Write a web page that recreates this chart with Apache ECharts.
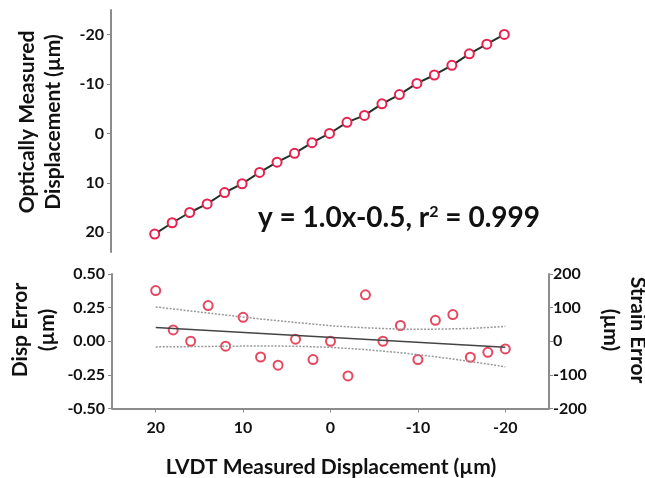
<!DOCTYPE html>
<html>
<head>
<meta charset="utf-8">
<script src="https://cdn.jsdelivr.net/npm/echarts@6/dist/echarts.min.js"></script>
<style>html,body{margin:0;padding:0;background:#fff}#chart{width:645px;height:478px}</style>
</head>
<body>
<div id="chart"></div>
<script>
// LVDT displacement (x, um) shared by both panels
const lvdt = [20, 18, 16, 14, 12, 10, 8, 6, 4, 2, 0, -2, -4, -6, -8, -10, -12, -14, -16, -18, -20];
// optically measured displacement (um)
const optical = [20.38, 18.08, 16.0, 14.27, 11.96, 10.18, 7.88, 5.82, 4.02, 1.86, 0.0, -2.26, -3.66, -6.0, -7.88, -10.14, -11.84, -13.8, -16.12, -18.08, -20.06];
// displacement error (um)
const dispError = [0.377, 0.084, 0.0, 0.265, -0.037, 0.178, -0.117, -0.178, 0.015, -0.136, 0.0, -0.258, 0.345, 0.0, 0.117, -0.136, 0.156, 0.198, -0.119, -0.082, -0.057];
// regression of the error and its confidence band
const fitX = [20, -20];
const fitErr = [0.102, -0.045];
const bandX = [20, 16, 12, 8, 4, 0, -4, -8, -12, -16, -20];
const bandUpper = [0.255, 0.225, 0.195, 0.165, 0.14, 0.115, 0.1, 0.09, 0.09, 0.095, 0.11];
const bandLower = [-0.042, -0.04, -0.037, -0.035, -0.037, -0.045, -0.062, -0.085, -0.115, -0.15, -0.19];
// tick labels
const xTicks = [20, 10, 0, -10, -20];
const topTicks = [-20, -10, 0, 10, 20];

const zip = (a, b) => a.map((v, i) => [v, b[i]]);

const axisGray = '#8c8c8c';
const labelFont = {color: '#111', fontFamily: 'Lato', fontWeight: 'bold', fontSize: 16};
const titleFont = 'bold 21px Lato';

var myChart = echarts.init(document.getElementById('chart'));
var option = {
  animation: false,
  backgroundColor: '#fff',
  grid: [
    {left: 111, top: 10, width: 437, height: 242, outerBoundsMode: 'none'},
    {left: 112, top: 274, width: 437, height: 134.5, outerBoundsMode: 'none'}
  ],
  xAxis: [
    {gridIndex: 0, type: 'value', min: -25, max: 25, inverse: true, show: false},
    {gridIndex: 1, type: 'value', min: -25, max: 25, inverse: true,
      axisLine: {onZero: false, lineStyle: {color: axisGray, width: 2}},
      axisTick: {show: true, length: 4, customValues: xTicks, lineStyle: {color: axisGray, width: 1}},
      axisLabel: Object.assign({margin: 11, customValues: xTicks}, labelFont),
      splitLine: {show: false}}
  ],
  yAxis: [
    {gridIndex: 0, type: 'value', min: -25, max: 24, inverse: true,
      axisLine: {show: true, onZero: false, lineStyle: {color: axisGray, width: 2}},
      axisTick: {show: true, length: 4, customValues: topTicks, lineStyle: {color: axisGray, width: 1}},
      axisLabel: Object.assign({margin: 7, customValues: topTicks}, labelFont),
      splitLine: {show: false}},
    {gridIndex: 1, type: 'value', min: -0.5, max: 0.5, interval: 0.25,
      axisLine: {show: true, onZero: false, lineStyle: {color: axisGray, width: 2}},
      axisTick: {show: true, length: 4, lineStyle: {color: axisGray, width: 1}},
      axisLabel: Object.assign({margin: 7, formatter: v => v.toFixed(2)}, labelFont),
      splitLine: {show: false}},
    {gridIndex: 1, type: 'value', position: 'right', min: -200, max: 200, interval: 100,
      axisLine: {show: true, onZero: false, lineStyle: {color: axisGray, width: 2}},
      axisTick: {show: true, length: 4, lineStyle: {color: axisGray, width: 1}},
      axisLabel: Object.assign({margin: 4}, labelFont),
      splitLine: {show: false}}
  ],
  series: [
    {type: 'line', xAxisIndex: 0, yAxisIndex: 0, data: zip(lvdt, optical),
      symbol: 'circle', symbolSize: 9,
      lineStyle: {color: '#1e3326', width: 2},
      itemStyle: {color: '#fff', borderColor: '#e8224f', borderWidth: 2}},
    {type: 'line', xAxisIndex: 1, yAxisIndex: 1, data: zip(bandX, bandUpper), showSymbol: false,
      lineStyle: {color: '#999', width: 1.5, type: [2, 1.5]}},
    {type: 'line', xAxisIndex: 1, yAxisIndex: 1, data: zip(bandX, bandLower), showSymbol: false,
      lineStyle: {color: '#999', width: 1.5, type: [2, 1.5]}},
    {type: 'line', xAxisIndex: 1, yAxisIndex: 1, data: zip(fitX, fitErr), showSymbol: false,
      lineStyle: {color: '#444', width: 1.5}},
    {type: 'scatter', xAxisIndex: 1, yAxisIndex: 1, data: zip(lvdt, dispError),
      symbol: 'circle', symbolSize: 9,
      itemStyle: {color: '#fff', borderColor: '#e01a38', borderWidth: 2}}
  ],
  graphic: [
    {type: 'text', x: 40, y: 122, rotation: Math.PI / 2,
      style: {text: 'Optically Measured\nDisplacement (µm)', font: titleFont, fill: '#111', align: 'center', verticalAlign: 'middle', lineHeight: 26}},
    {type: 'text', x: 34, y: 330, rotation: Math.PI / 2,
      style: {text: 'Disp Error\n(µm)', font: titleFont, fill: '#111', align: 'center', verticalAlign: 'middle', lineHeight: 27}},
    {type: 'text', x: 624, y: 330, rotation: -Math.PI / 2,
      style: {text: 'Strain Error\n(µm)', font: titleFont, fill: '#111', align: 'center', verticalAlign: 'middle', lineHeight: 27}},
    {type: 'text', x: 331, y: 467,
      style: {text: 'LVDT Measured Displacement (µm)', font: titleFont, fill: '#111', align: 'center', verticalAlign: 'middle'}},
    {type: 'text', x: 399, y: 218,
      style: {text: '{a|y = 1.0x-0.5, r}{s|2}{a| = 0.999}', align: 'center', verticalAlign: 'middle',
        rich: {
          a: {fontFamily: 'Lato', fontWeight: 'bold', fontSize: 28, fill: '#111', color: '#111'},
          s: {fontFamily: 'Lato', fontWeight: 'bold', fontSize: 16, fill: '#111', color: '#111', verticalAlign: 'top'}
        }}}
  ]
};
option && myChart.setOption(option);
</script>
</body>
</html>
